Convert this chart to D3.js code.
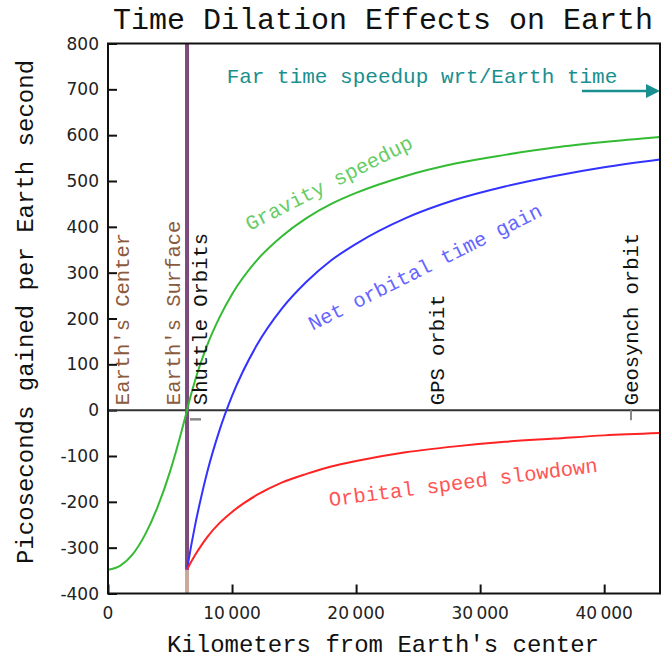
<!DOCTYPE html>
<html>
<head>
<meta charset="utf-8">
<script src="https://cdn.jsdelivr.net/npm/d3@7"></script>
<style>
  html, body { margin: 0; padding: 0; background: #fff; }
  svg { display: block; }
</style>
</head>
<body>
<svg id="chart" width="668" height="660"></svg>
<script>
// ---- data (km from Earth's center, picoseconds per Earth second) ----
const radiusInside = [0, 1000, 2000, 3000, 4000, 5000, 6000, 6371];
const gravityInside = [-348, -339, -314, -271, -211, -134, -39, 0];

const radiusOutside = [6371, 6500, 7000, 7500, 8000, 9000, 10000, 12000, 14000, 16000, 18000, 20000, 24000, 28000, 32000, 36000, 40000, 44500];
const gravityOutside = [0, 14, 63, 105, 142, 203, 253, 327, 379, 419, 450, 474, 511, 538, 557, 573, 585, 596];
const orbitalSlowdown = [-348, -341, -317, -296, -277, -246, -222, -185, -158, -139, -123, -111, -92, -79, -69, -62, -55, -50];
const netOrbitalGain = [-348, -327, -254, -191, -135, -43, 31, 142, 221, 280, 327, 363, 419, 459, 488, 511, 530, 547];

const earthRadius = 6371;
const surfaceLineBottom = -348;
const orbitNames = ["Shuttle Orbits", "GPS orbit", "Geosynch orbit"];
const orbitRadii = [6771, 26560, 42164];

const xTicks = [0, 10000, 20000, 30000, 40000];
const xTickLabels = ["0", "10\u2009000", "20\u2009000", "30\u2009000", "40\u2009000"];
const yTicks = [-400, -300, -200, -100, 0, 100, 200, 300, 400, 500, 600, 700, 800];

// ---- layout ----
const svg = d3.select("#chart");
const pLeft = 108, pRight = 660, pTop = 43.5, pBottom = 593.5;
const x = d3.scaleLinear().domain([0, 44500]).range([pLeft, pRight]);
const y = d3.scaleLinear().domain([-400, 800]).range([pBottom, pTop]);
const mono = "'Liberation Mono', 'Courier New', monospace";
const sans = "'DejaVu Sans', sans-serif";

// title
svg.append("text").attr("x", 383).attr("y", 29).attr("text-anchor", "middle")
  .style("font-family", mono).style("font-size", "30px").attr("fill", "#111")
  .text("Time Dilation Effects on Earth");

// axis labels
svg.append("text").attr("transform", "translate(33," + 312 + ") rotate(-90)")
  .attr("text-anchor", "middle").style("font-family", mono).style("font-size", "24px")
  .attr("fill", "#111").text("Picoseconds gained per Earth second");
svg.append("text").attr("x", 383).attr("y", 652).attr("text-anchor", "middle")
  .style("font-family", mono).style("font-size", "24px").attr("fill", "#111")
  .text("Kilometers from Earth's center");

// axes (inward ticks)
const yAxis = d3.axisRight(y).tickValues(yTicks).tickSize(9).tickFormat("");
svg.append("g").attr("transform", `translate(${pLeft},0)`).call(yAxis)
  .call(g => g.select(".domain").remove())
  .call(g => g.selectAll("line").attr("stroke", "#111").attr("stroke-width", 2));
yTicks.forEach(v => {
  svg.append("text").attr("x", 99).attr("y", y(v) + 6).attr("text-anchor", "end")
    .style("font-family", sans).style("font-size", "17px").attr("fill", "#222").text(v);
});
const xAxis = d3.axisTop(x).tickValues(xTicks).tickSize(9).tickFormat("");
svg.append("g").attr("transform", `translate(0,${pBottom})`).call(xAxis)
  .call(g => g.select(".domain").remove())
  .call(g => g.selectAll("line").attr("stroke", "#111").attr("stroke-width", 2));
xTicks.forEach((v, i) => {
  svg.append("text").attr("x", x(v)).attr("y", 619).attr("text-anchor", "middle")
    .style("font-family", sans).style("font-size", "17px").attr("fill", "#222").text(xTickLabels[i]);
});

// zero line
svg.append("line").attr("x1", pLeft).attr("x2", pRight).attr("y1", y(0)).attr("y2", y(0))
  .attr("stroke", "#333").attr("stroke-width", 2);

// Earth's surface line
svg.append("line").attr("x1", x(earthRadius)).attr("x2", x(earthRadius))
  .attr("y1", pBottom).attr("y2", y(surfaceLineBottom))
  .attr("stroke", "#c9aa9a").attr("stroke-width", 4);
svg.append("line").attr("x1", x(earthRadius)).attr("x2", x(earthRadius))
  .attr("y1", y(surfaceLineBottom)).attr("y2", pTop)
  .attr("stroke", "#7d4a7c").attr("stroke-width", 4);

// curves
const line = d3.line().x(d => x(d[0])).y(d => y(d[1])).curve(d3.curveMonotoneX);
const zip = (a, b) => a.map((v, i) => [v, b[i]]);
svg.append("path").datum(zip(radiusInside, gravityInside).concat(zip(radiusOutside, gravityOutside).slice(1)))
  .attr("d", line).attr("fill", "none").attr("stroke", "#33bb33").attr("stroke-width", 2);
svg.append("path").datum(zip(radiusOutside, netOrbitalGain))
  .attr("d", line).attr("fill", "none").attr("stroke", "#3333ff").attr("stroke-width", 2);
svg.append("path").datum(zip(radiusOutside, orbitalSlowdown))
  .attr("d", line).attr("fill", "none").attr("stroke", "#ff2222").attr("stroke-width", 2);

// orbit markers
svg.append("line").attr("x1", x(orbitRadii[0]) - 2).attr("x2", x(orbitRadii[0]) + 9)
  .attr("y1", y(-20)).attr("y2", y(-20)).attr("stroke", "#888").attr("stroke-width", 2.5);
svg.append("line").attr("x1", x(orbitRadii[2])).attr("x2", x(orbitRadii[2]))
  .attr("y1", y(0)).attr("y2", y(-22)).attr("stroke", "#888").attr("stroke-width", 2);

// vertical labels
function vlabel(px, text, color) {
  svg.append("text").attr("transform", `translate(${px},${y(0) - 5}) rotate(-90)`)
    .style("font-family", mono).style("font-size", "20.5px").attr("fill", color).text(text);
}
vlabel(x(0) + 21, "Earth's Center", "#8b5a3c");
vlabel(x(earthRadius) - 7, "Earth's Surface", "#8b5a3c");
vlabel(x(orbitRadii[0]) + 15, orbitNames[0], "#111");
vlabel(x(orbitRadii[1]) + 7, orbitNames[1], "#111");
vlabel(x(orbitRadii[2]) + 7, orbitNames[2], "#111");

// curve labels
function clabel(cx, cy, angle, text, color) {
  svg.append("text").attr("transform", `translate(${cx},${cy}) rotate(${angle})`)
    .attr("text-anchor", "middle").style("font-family", mono).style("font-size", "20.5px")
    .attr("fill", color).text(text);
}
clabel(332, 189, -27, "Gravity speedup", "#66cc66");
clabel(428, 273, -26.5, "Net orbital time gain", "#6666ff");
clabel(464, 489, -7.3, "Orbital speed slowdown", "#ff5555");

// far time label and arrow
svg.append("text").attr("x", 422).attr("y", 83).attr("text-anchor", "middle")
  .style("font-family", mono).style("font-size", "21px").attr("fill", "#1a8f8f")
  .text("Far time speedup wrt/Earth time");
svg.append("line").attr("x1", 582).attr("x2", 648).attr("y1", 91).attr("y2", 91)
  .attr("stroke", "#1a8f8f").attr("stroke-width", 2.5);
svg.append("path").attr("d", "M646,84 L660,91 L646,98 Z").attr("fill", "#1a8f8f");

// frame
svg.append("rect").attr("x", pLeft).attr("y", pTop).attr("width", pRight - pLeft).attr("height", pBottom - pTop)
  .attr("fill", "none").attr("stroke", "#111").attr("stroke-width", 2);
</script>
</body>
</html>
